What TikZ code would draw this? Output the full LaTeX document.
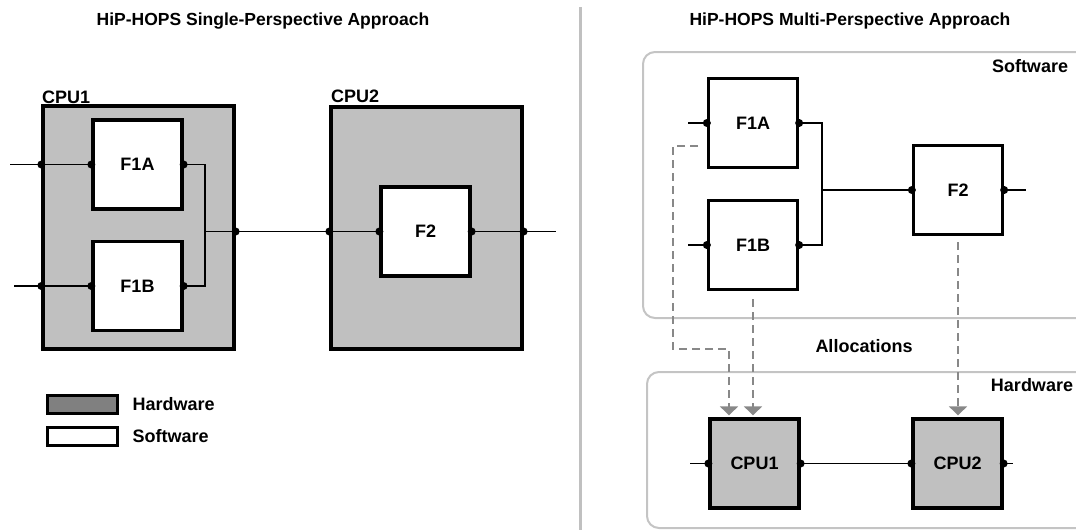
\documentclass[tikz,border=0pt]{standalone}
\usepackage{fontspec}
\setmainfont{Liberation Sans}
\usetikzlibrary{arrows.meta}
\definecolor{hwgray}{HTML}{C0C0C0}
\definecolor{swatchgray}{HTML}{808080}
\definecolor{dashgray}{HTML}{888888}
\definecolor{framegray}{HTML}{C4C4C4}
\begin{document}
\begin{tikzpicture}[x=1pt,y=-1pt,
  fbox/.style={draw=black, line width=3.3pt, fill=white, minimum width=89pt, minimum height=89pt, inner sep=0pt, font=\fontsize{18}{20}\selectfont\bfseries},
  hwbox/.style={fbox, fill=hwgray},
  cpuframe/.style={draw=black, line width=3.3pt, fill=hwgray, inner sep=0pt},
  wire/.style={draw=black, line width=1.9pt},
  port/.style={circle, fill=black, inner sep=0pt, minimum size=8pt},
  alloc/.style={draw=dashgray, line width=2pt, dash pattern=on 8pt off 5pt, -{Triangle[width=18pt,length=9pt]}},
  frame/.style={draw=framegray, line width=2pt, rounded corners=12pt},
  lbl/.style={font=\fontsize{18}{20}\selectfont\bfseries, inner sep=0pt},
  title/.style={font=\fontsize{17.5}{19}\selectfont\bfseries, inner sep=0pt}]
\useasboundingbox (0,0) rectangle (1076,530);
\clip (0,0) rectangle (1076,530);

% ---------- titles and divider ----------
\node[title] (t1) at (263,21) {HiP-HOPS Single-Perspective Approach};
\node[title] (t2) at (850,21) {HiP-HOPS Multi-Perspective Approach};
\draw[line width=3pt, draw=hwgray] (580,7) -- (580,530);

% ---------- left: single perspective ----------
\node[cpuframe, minimum width=191pt, minimum height=243pt] (cpuA) at (138.5,227.5) {};
\node[cpuframe, minimum width=191pt, minimum height=242pt] (cpuB) at (426.5,228) {};
\node[lbl, anchor=base west] (cpuAl) at (42,103.5) {CPU1};
\node[lbl, anchor=base west] (cpuBl) at (331,102.5) {CPU2};
\node[fbox] (f1a) at (137.5,164.5) {F1A};
\node[fbox] (f1b) at (137.5,286) {F1B};
\node[fbox] (f2) at (425.5,231.5) {F2};

\coordinate (inA) at (10,164.5);
\coordinate (inB) at (14,286);
\coordinate (jx) at (205,231.5);
\coordinate (outL) at (556,231.5);

\draw[wire] (inA) -- (f1a.west);
\draw[wire] (inB) -- (f1b.west);
\draw[wire] (f1a.east) -- (f1a.east -| jx) -- (f1b.east -| jx) -- (f1b.east);
\draw[wire] (jx) -- (f2.west);
\draw[wire] (f2.east) -- (outL);

\foreach \p in {(cpuA.west |- f1a.west), (f1a.west), (f1a.east),
                (cpuA.west |- f1b.west), (f1b.west), (f1b.east),
                (cpuA.east |- jx), (cpuB.west |- jx), (f2.west), (f2.east), (cpuB.east |- jx)}
  \node[port] at \p {};

% legend
\node[draw=black, line width=3pt, fill=swatchgray, minimum width=70pt, minimum height=18pt, inner sep=0pt] (swH) at (82,404) {};
\node[draw=black, line width=3pt, fill=white, minimum width=70pt, minimum height=18pt, inner sep=0pt] (swS) at (82,436) {};
\node[lbl, anchor=west] (txH) at ([xshift=14pt]swH.east) {Hardware};
\node[lbl, anchor=west] (txS) at ([xshift=14pt]swS.east) {Software};

% ---------- right: multi perspective ----------
\draw[frame] (643,52) rectangle (1095,318);
\draw[frame] (647,372) rectangle (1095,528);
\node[lbl] (swl) at (1030,66) {Software};
\node[lbl] (hwl) at (1032,385) {Hardware};
\node[lbl] (allocl) at (864,346) {Allocations};

\node[fbox] (rf1a) at (753,123) {F1A};
\node[fbox] (rf1b) at (753,245) {F1B};
\node[fbox] (rf2) at (958,190) {F2};
\node[hwbox] (rc1) at (754.5,463.5) {CPU1};
\node[hwbox] (rc2) at (957.5,463.5) {CPU2};

\coordinate (rinA) at (688,123);
\coordinate (rinB) at (688,245);
\coordinate (rjx) at (822,190);
\coordinate (rout) at (1026,190);
\coordinate (hin) at (690,463.5);
\coordinate (hout) at (1013,463.5);

\draw[wire] (rinA) -- (rf1a.west);
\draw[wire] (rinB) -- (rf1b.west);
\draw[wire] (rf1a.east) -- (rf1a.east -| rjx) -- (rf1b.east -| rjx) -- (rf1b.east);
\draw[wire] (rjx) -- (rf2.west);
\draw[wire] (rf2.east) -- (rout);
\draw[wire] (hin) -- (rc1.west);
\draw[wire] (rc1.east) -- (rc2.west);
\draw[wire] (rc2.east) -- (hout);

\foreach \p in {(rf1a.west), (rf1a.east), (rf1b.west), (rf1b.east), (rf2.west), (rf2.east),
                (rc1.west), (rc1.east), (rc2.west), (rc2.east)}
  \node[port] at \p {};

% allocations
\coordinate (d1s) at (698,146);
\coordinate (d1a) at (673,146);
\coordinate (d1b) at (673,349);
\coordinate (d1c) at (729,349);
\draw[alloc, shorten >=2pt] (d1s) -- (d1a) -- (d1b) -- (d1c) -- (d1c |- rc1.north);
\draw[alloc, shorten >=2pt] ([yshift=-8pt]rf1b.south) -- (rf1b.south |- rc1.north);
\draw[alloc, shorten >=2pt] ([yshift=-6pt]rf2.south) -- (rf2.south |- rc2.north);
\end{tikzpicture}
\end{document}
